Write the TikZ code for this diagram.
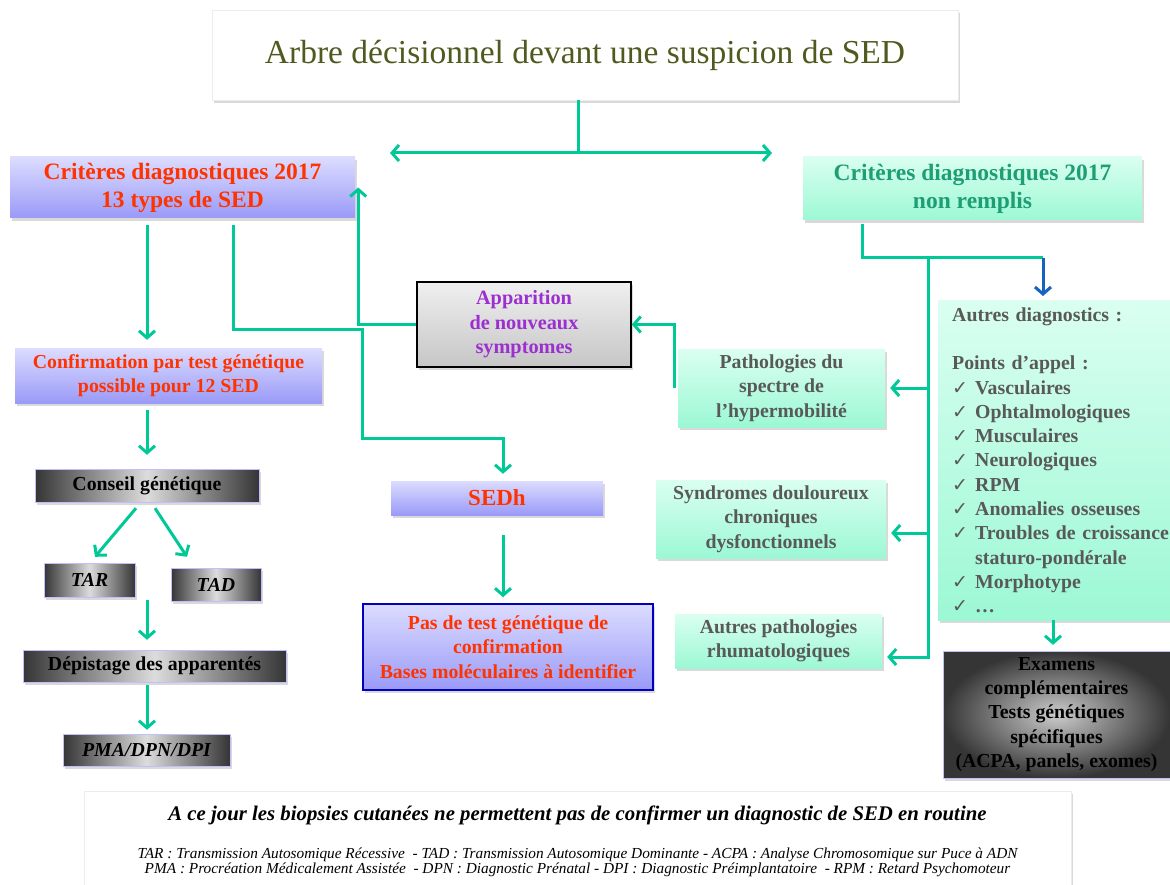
\documentclass[tikz,border=0pt]{standalone}
\usepackage{fontspec}
\setmainfont{Liberation Serif}
\newfontfamily\chkfont{DejaVu Sans}
\usetikzlibrary{arrows.meta,shadows}

\definecolor{lnk}{HTML}{00C896}
\definecolor{lnkblue}{HTML}{1565C0}
\definecolor{lavtop}{HTML}{DCDCFF}
\definecolor{lavbot}{HTML}{9A9AF8}
\definecolor{minttop}{HTML}{DAFFF1}
\definecolor{mintbot}{HTML}{9CF8D4}
\definecolor{redtxt}{HTML}{FF3300}
\definecolor{greentxt}{HTML}{1E9E74}
\definecolor{graytxt}{HTML}{595959}
\definecolor{olivetxt}{HTML}{4F5A1E}
\definecolor{purpletxt}{HTML}{9B2FCF}
\definecolor{darkbox}{HTML}{353535}
\definecolor{lightbox}{HTML}{DCDCDC}

\newcommand{\chk}{\makebox[23pt][l]{\chkfont\fontsize{19}{19}\selectfont ✓}}

\begin{document}
\begin{tikzpicture}[x=1pt, y=-1pt,
    shadowed/.style={drop shadow={opacity=0.3, shadow xshift=1.5pt, shadow yshift=-3pt}},
    lav/.style={shadowed, top color=lavtop, bottom color=lavbot, draw=none, text=redtxt, align=center, inner sep=2pt},
    mint/.style={shadowed, top color=minttop, bottom color=mintbot, draw=none, text=graytxt, align=center, inner sep=2pt},
    steel/.style={shadowed, left color=darkbox, right color=darkbox, middle color=lightbox, draw=blue!25, align=center, inner sep=2pt},
    txt/.style={font=\fontsize{19.8}{24.3}\selectfont\bfseries},
    itxt/.style={font=\fontsize{19.8}{24.3}\selectfont\bfseries\itshape},
    head/.style={font=\fontsize{23.5}{28}\selectfont\bfseries},
    link/.style={draw=lnk, line width=3pt},
    arr/.style={link, -{Straight Barb[length=7pt,width=16pt]}}]
  \useasboundingbox (0,0) rectangle (1170,885);

  % Title
  \node[shadowed, fill=white, draw=gray!15, minimum width=746pt, minimum height=90pt,
        text=olivetxt, font=\fontsize{33.5}{38}\selectfont] (title) at (585,55)
       {Arbre décisionnel devant une suspicion de SED};
  \coordinate (splitL) at (390,153);
  \coordinate (splitR) at (772,153);
  \draw[link] ([xshift=-7pt]title.south) -- ([xshift=-7pt]title.south |- splitL);
  \draw[link, {Straight Barb[length=7pt,width=16pt]}-{Straight Barb[length=7pt,width=16pt]}] (splitL) -- (splitR);

  % Left branch
  \node[lav, head, minimum width=345pt, minimum height=61pt] (critL) at (182.5,187.5)
       {Critères diagnostiques 2017\\13 types de SED};
  \node[lav, txt, minimum width=307pt, minimum height=55pt] (conf) at (168.5,375.5)
       {Confirmation par test génétique\\possible pour 12 SED};
  \node[steel, txt, minimum width=224pt, minimum height=33pt] (conseil) at (147,485.5) {Conseil génétique};
  \node[steel, itxt, minimum width=91pt, minimum height=34pt] (tar) at (89.5,580) {TAR};
  \node[steel, itxt, minimum width=90pt, minimum height=33pt] (tad) at (216,584.5) {TAD};
  \node[steel, txt, minimum width=263pt, minimum height=32pt] (depist) at (154.5,666) {Dépistage des apparentés};
  \node[steel, itxt, minimum width=167pt, minimum height=32pt] (pma) at (146.5,750) {PMA/DPN/DPI};

  \draw[arr, shorten <=7pt, shorten >=8pt] (critL.south -| 147,0) -- (conf.north -| 147,0);
  \draw[arr, shorten <=7pt, shorten >=14pt] (conf.south -| 147,0) -- (conseil.north -| 147,0);
  \draw[arr] ([xshift=-11pt,yshift=-6pt]conseil.south) -- ([xshift=5.5pt,yshift=6pt]tar.north);
  \draw[arr] ([xshift=8pt,yshift=-6pt]conseil.south) -- ([xshift=-29pt,yshift=11pt]tad.north);
  \draw[arr, shorten <=3pt, shorten >=10pt] (tar.south -| 147,0) -- (depist.north -| 147,0);
  \draw[arr, shorten <=3pt, shorten >=4pt] (depist.south -| 147,0) -- (pma.north -| 147,0);

  % Middle branch
  \node[shadowed, top color=gray!12, bottom color=gray!45, draw=black, line width=1.5pt, text=purpletxt,
        align=center, font=\fontsize{20.3}{24.5}\selectfont\bfseries, minimum width=214pt, minimum height=85pt] (appar) at (524,324.5)
       {Apparition\\de nouveaux\\symptomes};
  \node[lav, font=\fontsize{23}{26}\selectfont\bfseries, minimum width=212pt, minimum height=34pt] (sedh) at (497,498) {SEDh};
  \node[lav, txt, draw=blue!75!black, line width=1.5pt, minimum width=290pt, minimum height=86pt] (pas) at (508,647)
       {Pas de test génétique de\\confirmation\\Bases moléculaires à identifier};

  \draw[arr, shorten <=7pt, shorten >=7pt] (critL.south -| 233,0) |- (362,330) |- (503,438) -- (sedh.north -| 503,0);
  \draw[arr] (appar.west) -| ([xshift=3pt]critL.east);
  \draw[arr, shorten <=20pt, shorten >=6pt] (sedh.south -| 503,0) -- (pas.north -| 503,0);

  % Right branch
  \node[mint, head, text=greentxt, minimum width=339pt, minimum height=63pt] (critR) at (972.5,188.5)
       {Critères diagnostiques 2017\\non remplis};
  \node[mint, txt, minimum width=207pt, minimum height=78pt] (patho) at (781.5,388)
       {Pathologies du\\spectre de\\l’hypermobilité};
  \node[mint, txt, minimum width=230pt, minimum height=78pt] (syndr) at (771,519)
       {Syndromes douloureux\\chroniques\\dysfonctionnels};
  \node[mint, txt, minimum width=207pt, minimum height=54pt] (autresp) at (778.5,641)
       {Autres pathologies\\rhumatologiques};
  \node[mint, txt, align=left, text width=222pt, inner xsep=14pt, minimum height=320pt, anchor=north west] (autresd) at (938,300)
       {Autres diagnostics :\\[24.3pt]
        Points d’appel :\\
        \chk Vasculaires\\
        \chk Ophtalmologiques\\
        \chk Musculaires\\
        \chk Neurologiques\\
        \chk RPM\\
        \chk Anomalies osseuses\\
        \chk Troubles de croissance\\
        \hspace*{23pt}staturo-pondérale\\
        \chk Morphotype\\
        \chk …};
  \node[shadowed, inner color=gray!40, outer color=darkbox, draw=blue!25, txt, align=center,
        minimum width=227pt, minimum height=127pt] (exam) at (1056.5,714.5)
       {Examens\\complémentaires\\Tests génétiques\\spécifiques\\(ACPA, panels, exomes)};

  \coordinate (split) at (928,258);
  \draw[link, shorten <=4pt] (critR.south -| 862,0) |- (1043,258);
  \draw[lnkblue, line width=3pt, -{Straight Barb[length=7pt,width=16pt]}, shorten >=4pt] (1043,258) -- (autresd.north -| 1043,0);
  \draw[arr, shorten >=5pt] (split) |- ([yshift=-16pt]autresp.east);
  \draw[arr, shorten >=5pt] (split |- patho.east) -- (patho.east);
  \draw[arr, shorten >=5pt] (split |- 0,533) -- ([yshift=-14pt]syndr.east);
  \draw[arr, shorten >=6pt] (autresd.south -| 1053,0) -- (exam.north -| 1053,0);
  \draw[arr] ([xshift=-3pt]patho.west) |- (appar.east);

  % Note
  \node[shadowed, fill=white, draw=gray!15, anchor=north, minimum width=987pt, minimum height=100pt, align=center, inner sep=1pt] (note) at (577.5,791)
       {{\fontsize{20.8}{22}\selectfont\bfseries\itshape A ce jour les biopsies cutanées ne permettent pas de confirmer un diagnostic de SED en routine}\\[22pt]
        {\fontsize{15.3}{17}\selectfont\itshape TAR : Transmission Autosomique Récessive \ - TAD : Transmission Autosomique Dominante - ACPA : Analyse Chromosomique sur Puce à ADN}\\
        {\fontsize{15.3}{17}\selectfont\itshape PMA : Procréation Médicalement Assistée \ - DPN : Diagnostic Prénatal - DPI : Diagnostic Préimplantatoire \ - RPM : Retard Psychomoteur}};
\end{tikzpicture}
\end{document}
